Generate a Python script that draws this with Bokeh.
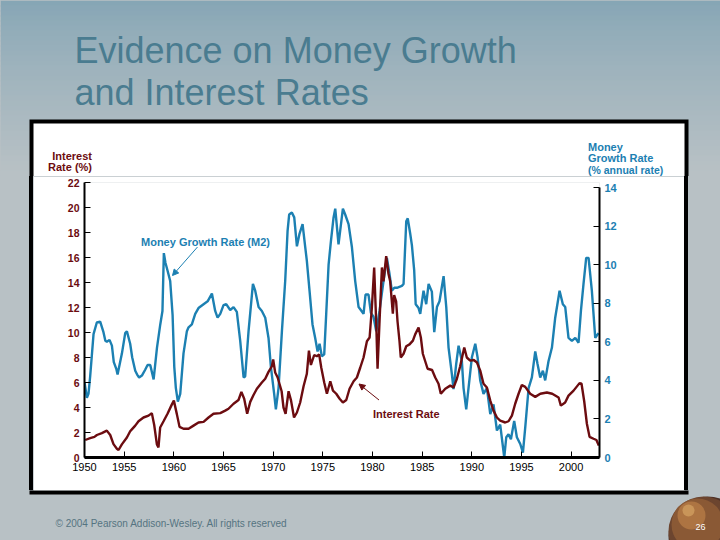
import numpy as np
from bokeh.plotting import figure
from bokeh.layouts import column, row
from bokeh.models import (Range1d, LinearAxis, FixedTicker, Label, Arrow, NormalHead, Spacer)
from bokeh.embed import file_html
from bokeh.resources import INLINE

# ---------------- data ----------------
money_years = [1951.0, 1951.24, 1951.4, 1951.57, 1951.91, 1952.24, 1952.58, 1952.91, 1953.1, 1953.25,
               1953.52, 1953.76, 1953.95, 1954.2, 1954.33, 1954.77, 1955.1, 1955.27, 1955.6, 1955.8,
               1956.11, 1956.3, 1956.5, 1956.78, 1957.11, 1957.35, 1957.62, 1957.96, 1958.3, 1958.63,
               1958.85, 1958.99, 1959.15, 1959.36, 1959.63, 1959.87, 1960.04, 1960.2, 1960.4, 1960.64,
               1960.97, 1961.31, 1961.48, 1961.81, 1962.15, 1962.48, 1962.99, 1963.4, 1963.83, 1964.16,
               1964.4, 1964.67, 1965.0, 1965.27, 1965.67, 1966.01, 1966.34, 1966.68, 1967.02, 1967.18,
               1967.52, 1967.96, 1968.19, 1968.53, 1968.86, 1969.2, 1969.53, 1969.77, 1970.1, 1970.27,
               1970.54, 1970.88, 1971.21, 1971.45, 1971.61, 1971.88, 1972.12, 1972.39, 1972.65, 1972.96,
               1973.23, 1973.39, 1973.66, 1973.96, 1974.23, 1974.47, 1974.67, 1974.9, 1975.14, 1975.34,
               1975.58, 1975.81, 1976.08, 1976.25, 1976.58, 1977.02, 1977.25, 1977.59, 1977.93, 1978.26,
               1978.6, 1979.1, 1979.3, 1979.6, 1979.84, 1980.1, 1980.38, 1980.71, 1981.11, 1981.45,
               1981.72, 1981.95, 1982.2, 1982.46, 1982.96, 1983.13, 1983.4, 1983.55, 1983.8, 1983.97,
               1984.2, 1984.35, 1984.64, 1984.81, 1985.14, 1985.41, 1985.65, 1985.98, 1986.22, 1986.49,
               1986.75, 1987.16, 1987.43, 1987.66, 1988.0, 1988.16, 1988.43, 1988.67, 1989.0, 1989.17,
               1989.44, 1989.67, 1990.01, 1990.35, 1990.58, 1990.85, 1991.18, 1991.52, 1991.86, 1992.19,
               1992.53, 1992.86, 1993.27, 1993.47, 1993.7, 1993.94, 1994.27, 1994.54, 1994.88, 1995.15,
               1995.38, 1995.72, 1996.05, 1996.39, 1996.62, 1996.89, 1997.16, 1997.39, 1997.73, 1998.07,
               1998.4, 1998.84, 1999.17, 1999.41, 1999.74, 2000.08, 2000.42, 2000.75, 2000.99, 2001.25,
               2001.52, 2001.76, 2002.09, 2002.43, 2002.76]
money_growth = [3.9, 3.1, 3.3, 4.2, 6.4, 7.0, 7.05, 6.5, 6.05, 6.0,
                6.1, 5.8, 4.95, 4.6, 4.3, 5.4, 6.45, 6.55, 5.9, 5.2,
                4.5, 4.3, 4.15, 4.25, 4.55, 4.8, 4.8, 4.05, 5.7, 6.9,
                7.6, 10.6, 10.1, 9.7, 9.15, 7.4, 4.7, 3.6, 2.9, 3.3,
                5.4, 6.55, 6.75, 6.9, 7.45, 7.75, 7.95, 8.1, 8.5, 7.6,
                7.25, 7.45, 7.9, 7.95, 7.65, 7.8, 7.55, 6.05, 4.15, 4.2,
                6.55, 9.0, 8.65, 7.8, 7.6, 7.25, 6.2, 4.7, 3.3, 2.5,
                3.6, 6.55, 9.15, 11.75, 12.6, 12.7, 12.45, 10.95, 11.6, 12.1,
                10.9, 10.2, 8.65, 6.9, 6.2, 5.5, 5.9, 5.25, 5.35, 7.45,
                10.0, 11.2, 12.45, 12.9, 11.05, 12.9, 12.6, 12.1, 10.9, 9.15,
                7.8, 7.45, 8.45, 8.45, 7.5, 7.3, 6.55, 7.6, 9.15, 10.35,
                9.5, 8.65, 8.8, 8.8, 8.9, 9.0, 12.25, 12.4, 11.6, 11.0,
                9.7, 7.95, 7.75, 7.45, 8.65, 7.95, 9.0, 8.6, 6.5, 7.8,
                8.1, 9.4, 7.8, 5.7, 4.3, 3.55, 4.85, 5.8, 5.0, 3.6,
                2.5, 3.6, 5.2, 5.9, 5.2, 4.0, 3.3, 3.6, 2.25, 2.75,
                1.4, 1.7, 0.0, 1.05, 1.2, 0.95, 1.9, 1.05, 0.7, 0.25,
                1.55, 3.6, 4.15, 5.5, 4.85, 4.15, 4.5, 4.0, 5.0, 5.7,
                7.25, 8.65, 7.95, 7.8, 6.2, 6.05, 6.2, 5.95, 7.6, 9.0,
                10.35, 10.35, 8.65, 6.2, 6.45]

rate_years = [1951.07, 1951.57, 1952.0, 1952.25, 1952.75, 1953.25, 1953.59, 1953.92, 1954.26, 1954.43,
              1954.76, 1955.27, 1955.6, 1955.77, 1956.11, 1956.44, 1956.94, 1957.45, 1957.78, 1958.02,
              1958.29, 1958.45, 1958.62, 1958.96, 1959.36, 1959.8, 1960.0, 1960.3, 1960.57, 1960.97,
              1961.48, 1961.98, 1962.48, 1962.99, 1963.49, 1963.99, 1964.67, 1965.17, 1965.5, 1966.01,
              1966.51, 1966.8, 1967.08, 1967.38, 1967.69, 1968.02, 1968.36, 1968.86, 1969.2, 1969.53,
              1969.87, 1970.0, 1970.2, 1970.45, 1970.85, 1971.04, 1971.25, 1971.55, 1971.8, 1972.1,
              1972.39, 1972.72, 1973.06, 1973.39, 1973.6, 1973.8, 1974.13, 1974.4, 1974.63, 1974.84,
              1975.14, 1975.41, 1975.75, 1976.02, 1976.35, 1976.69, 1977.02, 1977.36, 1977.69, 1978.1,
              1978.43, 1978.77, 1979.1, 1979.44, 1979.71, 1979.94, 1980.17, 1980.38, 1980.51, 1980.71,
              1980.95, 1981.11, 1981.38, 1981.61, 1981.78, 1982.05, 1982.18, 1982.38, 1982.52, 1982.72,
              1982.85, 1983.13, 1983.4, 1983.73, 1984.07, 1984.3, 1984.64, 1984.87, 1985.07, 1985.31,
              1985.55, 1986.0, 1986.32, 1986.65, 1986.88, 1987.33, 1987.83, 1988.16, 1988.5, 1988.83,
              1989.24, 1989.5, 1989.84, 1990.2, 1990.52, 1990.85, 1991.18, 1991.52, 1991.86, 1992.19,
              1992.53, 1992.86, 1993.37, 1993.7, 1994.04, 1994.37, 1994.71, 1995.04, 1995.38, 1995.88,
              1996.39, 1996.9, 1997.56, 1998.1, 1998.74, 1998.97, 1999.4, 1999.74, 2000.25, 2000.85,
              2001.05, 2001.32, 2001.59, 2001.86, 2002.26, 2002.55, 2002.79]
interest_rate = [1.4, 1.55, 1.65, 1.8, 1.95, 2.15, 1.8, 1.07, 0.7, 0.6,
                 1.05, 1.6, 2.1, 2.25, 2.55, 2.9, 3.2, 3.35, 3.55, 2.6,
                 1.05, 0.8, 2.4, 2.9, 3.5, 4.25, 4.55, 3.47, 2.45, 2.3,
                 2.3, 2.55, 2.8, 2.85, 3.2, 3.5, 3.55, 3.75, 3.9, 4.3,
                 4.6, 5.25, 4.7, 3.5, 4.45, 5.0, 5.5, 6.0, 6.3, 6.85,
                 7.3, 7.85, 6.8, 6.4, 5.3, 4.0, 3.5, 5.3, 4.55, 3.2,
                 3.6, 4.4, 5.7, 6.7, 8.55, 7.4, 8.2, 8.1, 8.25, 7.2,
                 6.0, 5.1, 6.1, 5.35, 5.1, 4.7, 4.4, 4.6, 5.5, 6.1,
                 6.4, 7.2, 8.0, 9.3, 9.6, 12.0, 15.2, 10.7, 7.1, 10.9,
                 15.2, 14.1, 16.1, 14.7, 14.1, 11.5, 13.0, 12.5, 10.9, 9.3,
                 8.0, 8.3, 8.9, 9.05, 9.35, 9.85, 10.4, 9.6, 8.3, 7.7,
                 7.1, 7.0, 6.4, 5.9, 5.1, 5.5, 5.75, 5.6, 6.3, 7.3,
                 8.8, 8.0, 7.75, 7.8, 7.6, 6.95, 5.9, 5.6, 4.55, 3.75,
                 3.2, 2.95, 2.8, 2.9, 3.35, 4.3, 5.1, 5.8, 5.65, 5.1,
                 4.85, 5.1, 5.2, 5.1, 4.8, 4.15, 4.4, 4.95, 5.35, 5.95,
                 5.9, 4.5, 2.7, 1.65, 1.5, 1.4, 0.95]

x_tick_labels = ["1950", "1955", "1960", "1965", "1970", "1975", "1980", "1985", "1990", "1995", "2000"]
rate_ticks = [0, 2, 4, 6, 8, 10, 12, 14, 16, 18, 20, 22]
money_ticks = [0, 2, 4, 6, 8, 10, 12, 14]

# ---------------- styling ----------------
BLUE = "#1c80b2"
RED = "#6c0c10"
TITLE_C = "#4a7c90"
FONT = "Liberation Sans"

BG_TOP = np.array([132, 165, 181])
BG_BOT = np.array([184, 193, 197])


def bg_color(y):
    t = min(1.0, max(0.0, y / 170.0)) ** 0.75
    c = (BG_TOP + (BG_BOT - BG_TOP) * t).astype(int)
    return "#%02x%02x%02x" % tuple(c)


BG_FLAT = bg_color(400)
BOX = (29, 688, 119, 494)        # outer edge of the black chart frame (window px)
BORDER = 4


def deco(x0, x1, y0, y1, gradient=False):
    """Decoration-only panel whose data units are window pixels (y downwards)."""
    f = figure(width=x1 - x0, height=y1 - y0, x_range=Range1d(x0, x1), y_range=Range1d(y1, y0),
               title=None, output_backend="svg", toolbar_location=None, min_border=0,
               x_axis_location=None, y_axis_location=None, outline_line_color=None,
               background_fill_color=BG_FLAT, border_fill_color=BG_FLAT)
    f.grid.visible = False
    if gradient:
        ys = np.arange(y0, y1, 5)
        f.quad(left=x0, right=x1, top=ys, bottom=np.minimum(ys + 6, y1),
               fill_color=[bg_color(v + 2.5) for v in ys], line_color=None)
    bl, br, bt, bb = BOX
    f.quad(left=[bl], right=[br], top=[bt], bottom=[bb], fill_color="black", line_color=None)
    f.quad(left=[bl + BORDER], right=[br - BORDER], top=[bt + BORDER], bottom=[bb - BORDER],
           fill_color="white", line_color=None)
    return f


def dlab(f, text, x, y, color, size, style="normal", align="left"):
    f.add_layout(Label(x=x, y=y, text=text, text_font=FONT, text_font_size=size,
                       text_color=color, text_font_style=style, text_align=align,
                       text_baseline="alphabetic"))


SPLIT_TOP, SPLIT_BOT = 176, 490
BOX_L, BOX_R = BOX[0] + BORDER, BOX[1] - BORDER

# ---- top band: slide title and axis titles ----
top = deco(0, 720, 0, SPLIT_TOP, gradient=True)
dlab(top, "Evidence on Money Growth", 74, 50, TITLE_C, "36px")
dlab(top, "and Interest Rates", 74, 92, TITLE_C, "36px")
dlab(top, "Interest", 91.5, 155, RED, "11px", "bold", "right")
dlab(top, "Rate (%)", 91.5, 166.5, RED, "11px", "bold", "right")
dlab(top, "Money", 587.5, 146, BLUE, "11px", "bold")
dlab(top, "Growth Rate", 587.5, 157.8, BLUE, "11px", "bold")
dlab(top, "(% annual rate)", 587.5, 169.3, BLUE, "10.5px", "bold")

# ---- side strips (plain styled spacers: slide grey plus the black frame edge) ----
left = Spacer(width=BOX_L, height=SPLIT_BOT - SPLIT_TOP,
              styles={"background": "linear-gradient(to right, %s 0px, %s %dpx, black %dpx, black %dpx)"
                                    % (BG_FLAT, BG_FLAT, BOX[0], BOX[0], BOX_L)})
right = Spacer(width=720 - BOX_R, height=SPLIT_BOT - SPLIT_TOP,
               styles={"background": "linear-gradient(to right, black 0px, black %dpx, %s %dpx, %s 100%%)"
                                     % (BORDER, BG_FLAT, BORDER, BG_FLAT)})

# ---- bottom band: copyright and page number ----
bottom = deco(0, 720, SPLIT_BOT, 540)
for (cx, cy, r, col) in [(707, 535, 39, "#4e3228"), (703, 531, 35, "#6c452f"),
                         (697, 524, 26, "#8a5935"), (691, 515, 14, "#ad7442"),
                         (688, 510, 6, "#c99559")]:
    bottom.ellipse(x=[cx], y=[cy], width=2 * r, height=2 * r, fill_color=col, line_color=None)
dlab(bottom, "\u00a9 2004 Pearson Addison-Wesley. All rights reserved", 55, 522.5, "#557481", "10px")
dlab(bottom, "26", 700, 526, "white", "9px", "normal", "center")

# ---- main chart ----
W, H = BOX_R - BOX_L, SPLIT_BOT - SPLIT_TOP
ML, MR, MT, MB = 51, 85, 6, 33
X0, X1 = 1951.0, 2002.86                       # visual extent of the time axis
PX0, PY1 = BOX_L + ML, SPLIT_TOP + H - MB      # frame left / bottom in window pixels

p = figure(width=W, height=H, title=None, output_backend="svg", toolbar_location=None,
           x_range=Range1d(X0, X1), y_range=Range1d(0, 22),
           min_border_left=ML, min_border_right=MR, min_border_top=MT, min_border_bottom=MB,
           background_fill_color="white", border_fill_color="white",
           outline_line_color=None)
p.extra_y_ranges = {"money": Range1d(0, 14.26)}
p.grid.visible = False


def sx(px):
    return px - PX0


def sy(py):
    return PY1 - py


xa = p.xaxis[0]
xa.ticker = FixedTicker(ticks=[X0] + [int(s) for s in x_tick_labels[1:]])
xa.major_label_overrides = {X0: x_tick_labels[0]}
ya = p.yaxis[0]
ya.ticker = FixedTicker(ticks=rate_ticks)
ra = LinearAxis(y_range_name="money", ticker=FixedTicker(ticks=money_ticks), bounds=(0, 14))
p.add_layout(ra, "right")

for ax, col, lw in [(xa, "black", 3), (ya, RED, 2), (ra, BLUE, 2)]:
    ax.axis_line_color = "black"
    ax.axis_line_width = lw
    ax.major_tick_in = 6
    ax.major_tick_out = 0
    ax.major_tick_line_color = "black"
    ax.major_tick_line_width = 1
    ax.minor_tick_line_color = None
    ax.major_label_text_font = FONT
    ax.major_label_text_font_size = "11px"
    ax.major_label_text_color = col
    ax.major_label_standoff = 5
ya.major_label_text_font_size = "10.5px"
ya.major_label_text_font_style = "bold"
ra.major_label_text_font_style = "bold"

p.line(money_years, money_growth, y_range_name="money", line_color=BLUE, line_width=2.4)
p.line(rate_years, interest_rate, line_color=RED, line_width=2.4)


def lab(text, px, py, color):
    p.add_layout(Label(x=sx(px), y=sy(py), x_units="screen", y_units="screen", text=text,
                       text_font=FONT, text_font_size="11px", text_color=color,
                       text_font_style="bold", text_baseline="alphabetic"))


lab("Money Growth Rate (M2)", 140.5, 241.5, BLUE)
lab("Interest Rate", 372.5, 413.5, RED)

p.add_layout(Arrow(x_start=sx(197), y_start=sy(246.5), x_end=sx(172), y_end=sy(275),
                   start_units="screen", end_units="screen", line_color=BLUE, line_width=1,
                   end=NormalHead(size=6, fill_color=BLUE, line_color=BLUE)))
p.add_layout(Arrow(x_start=sx(378.5), y_start=sy(399.5), x_end=sx(358.5), y_end=sy(383.5),
                   start_units="screen", end_units="screen", line_color=RED, line_width=1,
                   end=NormalHead(size=6, fill_color=RED, line_color=RED)))

mid = row(left, p, right, styles={"background-color": BG_FLAT})
layout = column(top, mid, bottom, styles={"background-color": BG_FLAT})
open("out.html", "w").write(file_html(layout, INLINE))
